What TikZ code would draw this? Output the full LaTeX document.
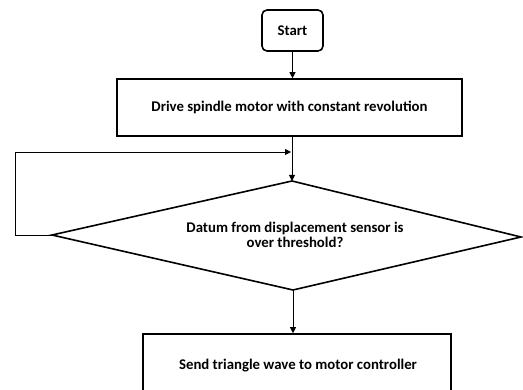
\documentclass[tikz,border=0pt]{standalone}
\usepackage{fontspec}
\setmainfont{Carlito}
\usetikzlibrary{arrows.meta}
\begin{document}
\begin{tikzpicture}[x=1pt,y=-1pt,
  txt/.style={font=\bfseries\fontsize{14.8}{14.5}\selectfont},
  box/.style={draw,line width=1.6pt,inner sep=0pt,txt},
  conn/.style={line width=0.8pt,-{Triangle[length=6pt,width=6pt]}}]
\useasboundingbox (0,0) rectangle (523,390);
\clip (0,0) rectangle (523,390);
\node[box,rounded corners=5pt,minimum width=61pt,minimum height=41pt] (start) at (292.5,30.5) {Start};
\node[box,minimum width=345pt,minimum height=57pt] (drive) at (289.5,107.5) {Drive spindle motor with constant revolution};
\coordinate (dtop) at (292,181);
\coordinate (dleft) at (52,235);
\coordinate (dright) at (521,237);
\coordinate (dbot) at (293,290);
\draw[line width=1.6pt,line join=miter] (dtop) -- (dright) -- (dbot) -- (dleft) -- cycle;
\node[txt,align=center] (dtext) at (295,235) {Datum from displacement sensor is\\over threshold?};
\node[box,minimum width=308pt,minimum height=80pt] (send) at (297,374) {};
\node[txt] (sendtext) at (298,366) {Send triangle wave to motor controller};
\coordinate (join) at (291,152);
\coordinate (lc1) at (15,235);
\coordinate (lc2) at (15,152);
\draw[conn] (start.south) -- (start.south |- drive.north);
\draw[conn] (drive.south -| dtop) -- (dtop);
\draw[conn] (dleft) -- (lc1) -- (lc2) -- (join);
\draw[conn] (dbot) -- (dbot |- send.north);
\end{tikzpicture}
\end{document}
